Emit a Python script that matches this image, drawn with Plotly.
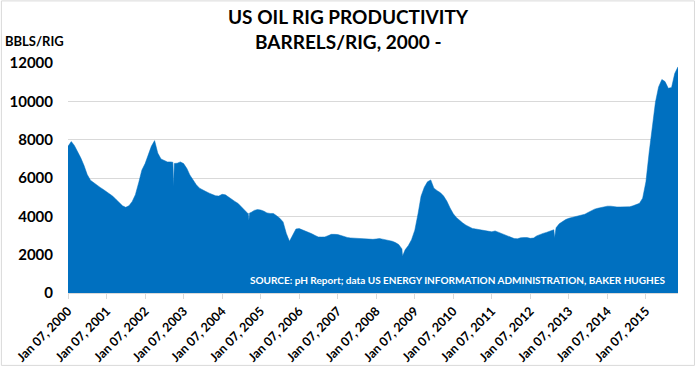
import pandas as pd
import plotly.graph_objects as go

# Monthly barrels-per-rig readings, Jan 2000 .. Nov 2015
monthly_values = [
    7650, 7900, 7700, 7380, 7050, 6650, 6180, 5880, 5740, 5630, 5510, 5400,   # 2000
    5290, 5180, 5050, 4880, 4710, 4550, 4470, 4550, 4780, 5130, 5750, 6410,   # 2001
    6750, 7170, 7650, 7950, 7300, 6990, 6910, 6840, 6840, 6750, 6770, 6840,   # 2002
    6750, 6495, 6160, 5900, 5650, 5470, 5370, 5290, 5210, 5120, 5070, 5060,   # 2003
    5150, 5120, 5000, 4890, 4780, 4670, 4510, 4330, 4150, 4200, 4310, 4350,   # 2004
    4330, 4270, 4180, 4150, 4150, 4030, 3900, 3710, 3100, 2700, 3050, 3340,   # 2005
    3360, 3300, 3230, 3160, 3090, 3000, 2925, 2920, 2925, 2990, 3060, 3060,   # 2006
    3050, 3000, 2940, 2900, 2875, 2860, 2845, 2830, 2810, 2800, 2800, 2800,   # 2007
    2820, 2840, 2810, 2780, 2750, 2700, 2630, 2530, 2300, 2250, 2480, 2780,   # 2008
    3280, 4150, 5050, 5520, 5800, 5900, 5470, 5340, 5230, 5060, 4790, 4440,   # 2009
    4130, 3930, 3790, 3650, 3540, 3450, 3370, 3340, 3310, 3300, 3280, 3240,   # 2010
    3190, 3240, 3180, 3100, 3040, 2970, 2890, 2840, 2830, 2880, 2890, 2890,   # 2011
    2850, 2870, 2980, 3060, 3110, 3160, 3220, 3275, 3400, 3610, 3730, 3830,   # 2012
    3900, 3950, 3980, 4010, 4060, 4110, 4200, 4290, 4375, 4420, 4460, 4490,   # 2013
    4530, 4530, 4500, 4490, 4490, 4490, 4490, 4500, 4550, 4620, 4680, 4950,   # 2014
    5800, 7350, 8700, 9950, 10750, 11140, 11030, 10680, 10720, 11450, 11800,  # 2015
]

# Short weekly disruptions (hurricanes)
dip_dates = ["2002-09-27", "2002-10-04", "2002-10-11",
             "2004-09-10", "2004-09-17", "2004-09-24",
             "2008-09-12",
             "2012-08-17", "2012-08-24", "2012-08-31"]
dip_values = [6820, 5560, 6760,
              4170, 3800, 4180,
              1915,
              3300, 2870, 3360]

tick_years = list(range(2000, 2016))
tick_dates = [f"{y}-01-07" for y in tick_years]
tick_labels = [f"Jan 07, {y}" for y in tick_years]

y_ticks = [0, 2000, 4000, 6000, 8000, 10000, 12000]
y_labels = [str(v) for v in y_ticks]

monthly_dates = pd.date_range("2000-01-07", periods=len(monthly_values),
                              freq=pd.DateOffset(months=1))
df = pd.concat([
    pd.DataFrame({"date": monthly_dates, "value": monthly_values}),
    pd.DataFrame({"date": pd.to_datetime(dip_dates), "value": dip_values}),
]).sort_values("date")

BLUE = "#0070C0"
FONT = "Lato"

fig = go.Figure()
fig.add_trace(go.Scatter(
    x=df["date"], y=df["value"], mode="lines",
    line=dict(color=BLUE, width=0.5), fill="tozeroy", fillcolor=BLUE,
    hoverinfo="x+y", showlegend=False,
))

L, R, T, B = 67.7, 21.5, 63, 73.3
W, H = 700, 366
pw, ph = W - L - R, H - T - B

def px(x):
    return (x - L) / pw

def py(y):
    return (H - B - y) / ph

fig.update_layout(
    width=W, height=H,
    margin=dict(l=L, r=R, t=T, b=B, autoexpand=False),
    paper_bgcolor="white", plot_bgcolor="white",
    font=dict(family=FONT, color="#000000"),
    xaxis=dict(
        type="date", automargin=False,
        range=[df["date"].min(), df["date"].max()],
        tickvals=tick_dates, ticktext=tick_labels,
        tickangle=-45,
        tickfont=dict(family=FONT, size=12.5, color="#000000", weight="bold"),
        showgrid=False, showline=True, linecolor="#D9D9D9", linewidth=1,
        ticks="outside", ticklen=5, tickcolor="#D9D9D9",
        zeroline=False,
    ),
    yaxis=dict(
        range=[0, 12000], tickvals=y_ticks, ticktext=y_labels, automargin=False,
        tickfont=dict(family=FONT, size=15, color="#000000", weight="bold"),
        showgrid=True, gridcolor="#D9D9D9", gridwidth=1,
        zeroline=False, showline=False, ticks="", ticklabelstandoff=14,
    ),
    annotations=[
        dict(text="<b>US OIL RIG PRODUCTIVITY</b>", xref="paper", yref="paper",
             x=px(349), y=py(17), xanchor="center", yanchor="middle",
             showarrow=False, font=dict(family=FONT, size=19, color="#000000")),
        dict(text="<b>BARRELS/RIG, 2000 -</b>", xref="paper", yref="paper",
             x=px(349), y=py(42), xanchor="center", yanchor="middle",
             showarrow=False, font=dict(family=FONT, size=19, color="#000000")),
        dict(text="<b>BBLS/RIG</b>", xref="paper", yref="paper",
             x=px(3), y=py(41), xanchor="left", yanchor="middle",
             showarrow=False, font=dict(family=FONT, size=13, color="#000000")),
        dict(text="<b>SOURCE: pH Report; data US ENERGY INFORMATION ADMINISTRATION, BAKER HUGHES</b>",
             xref="paper", yref="paper",
             x=px(668), y=py(280), xanchor="right", yanchor="middle",
             showarrow=False, font=dict(family=FONT, size=10, color="#FFFFFF")),
    ],
    shapes=[
        dict(type="rect", xref="paper", yref="paper",
             x0=px(1), x1=px(695), y0=py(365), y1=py(1),
             line=dict(color="#D9D9D9", width=1), layer="below"),
    ],
)

fig.write_html("out.html",
               config={"displayModeBar": False},
               post_script="document.body.style.margin='0';document.body.style.overflow='hidden';")
